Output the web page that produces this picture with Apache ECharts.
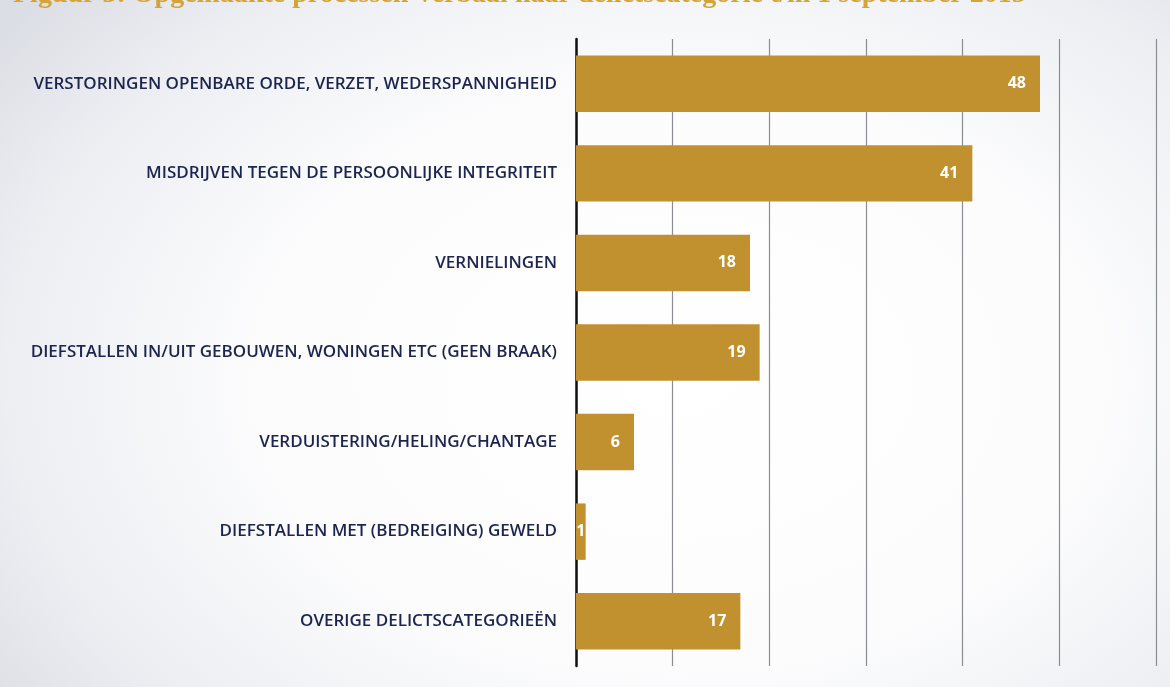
<!DOCTYPE html>
<html>
<head>
<meta charset="utf-8">
<script src="https://cdn.jsdelivr.net/npm/echarts@6/dist/echarts.min.js"></script>
<style>
  html, body { margin: 0; padding: 0; }
  body {
    width: 1170px; height: 687px; overflow: hidden;
    background:
      radial-gradient(ellipse 72% 85% at 58% 55%, #ffffff 0%, #fcfcfd 50%, #eceef2 80%, #dcdee5 100%);
  }
  #chart { width: 1170px; height: 687px; }
</style>
</head>
<body>
<div id="chart"></div>
<script>
// Delict categories, top to bottom
const categories = [
  'VERSTORINGEN OPENBARE ORDE, VERZET, WEDERSPANNIGHEID',
  'MISDRIJVEN TEGEN DE PERSOONLIJKE INTEGRITEIT',
  'VERNIELINGEN',
  'DIEFSTALLEN IN/UIT GEBOUWEN, WONINGEN ETC (GEEN BRAAK)',
  'VERDUISTERING/HELING/CHANTAGE',
  'DIEFSTALLEN MET (BEDREIGING) GEWELD',
  'OVERIGE DELICTSCATEGORIEËN'
];
const counts = [48, 41, 18, 19, 6, 1, 17];
const titleText = 'Figuur 3: Opgemaakte processen-verbaal naar delictscategorie t/m 1 september 2015';

const chart = echarts.init(document.getElementById('chart'), null, { renderer: 'canvas' });

// very short bars get their label centred on the bar instead of inset from the end
const barData = counts.map(v => v < 3
  ? { value: v, label: { position: 'inside', distance: 0 } }
  : v);

chart.setOption({
  backgroundColor: 'transparent',
  animation: false,
  title: {
    text: titleText,
    left: 8,
    top: -24,
    textStyle: {
      color: '#d4a437',
      fontFamily: 'Liberation Serif',
      fontWeight: 'bold',
      fontSize: 28
    }
  },
  grid: { left: 576, right: 14, top: 39, bottom: 21, containLabel: false },
  xAxis: {
    type: 'value',
    min: 0,
    max: 60,
    interval: 10,
    axisLabel: { show: false },
    axisLine: { show: false },
    axisTick: { show: false },
    splitLine: { show: true, lineStyle: { color: '#8a8d92', width: 1.2 } }
  },
  yAxis: {
    type: 'category',
    inverse: true,
    data: categories,
    axisLine: { show: true, lineStyle: { color: '#111111', width: 2.5 } },
    axisTick: { show: false },
    axisLabel: {
      margin: 19,
      color: '#1c2550',
      fontFamily: 'Open Sans',
      fontSize: 17,
      fontWeight: 600
    }
  },
  series: [{
    type: 'bar',
    data: barData,
    barCategoryGap: '37%',
    itemStyle: { color: '#c2912f' },
    label: {
      show: true,
      position: 'insideRight',
      distance: 14,
      color: '#ffffff',
      fontFamily: 'Open Sans',
      fontWeight: 'bold',
      fontSize: 16
    }
  }]
});
</script>
</body>
</html>
